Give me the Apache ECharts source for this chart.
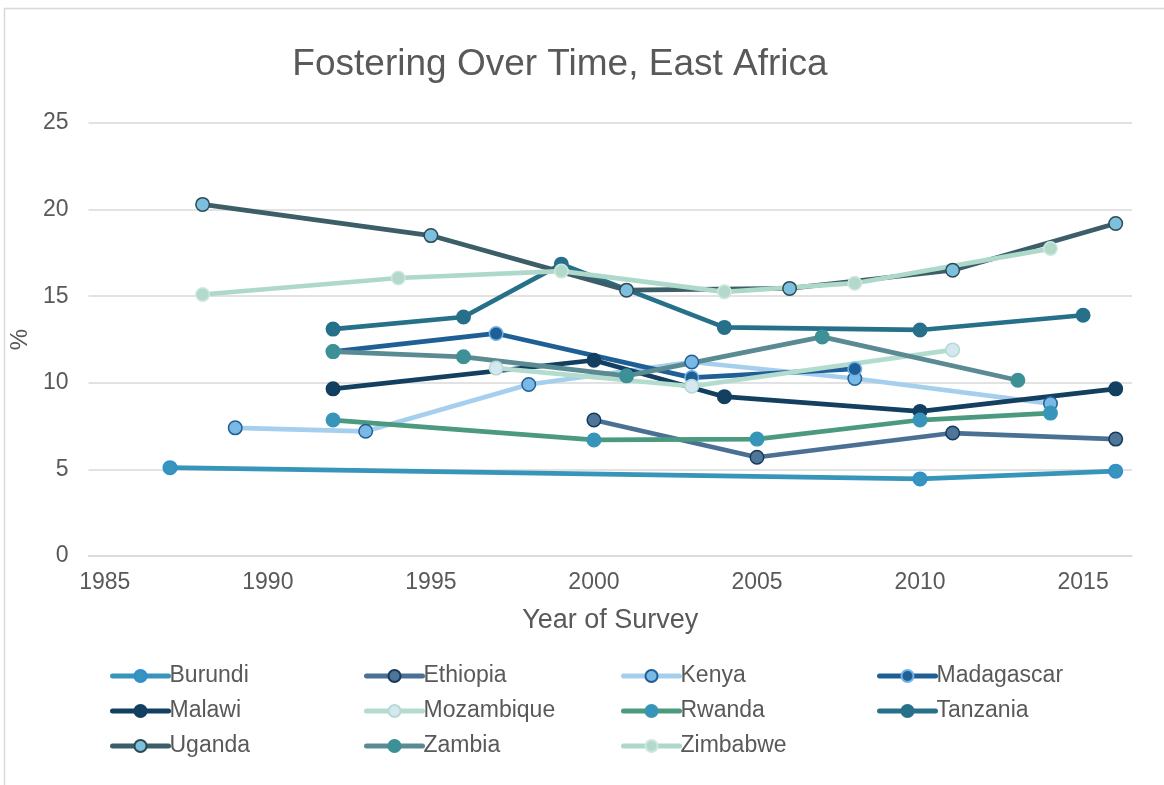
<!DOCTYPE html>
<html>
<head>
<meta charset="utf-8">
<title>Fostering Over Time, East Africa</title>
<script src="https://cdn.jsdelivr.net/npm/echarts@6/dist/echarts.min.js"></script>
<style>
  html, body { margin: 0; padding: 0; background: #ffffff; }
  #chart { width: 1164px; height: 785px; }
</style>
</head>
<body>
<div id="chart"></div>
<script>
// Survey years and percentage of children fostered, per country
const burundiYears = [1987, 2010, 2016];
const burundiVals = [5.1, 4.45, 4.9];

const ethiopiaYears = [2000, 2005, 2011, 2016];
const ethiopiaVals = [7.85, 5.7, 7.1, 6.75];

const kenyaYears = [1989, 1993, 1998, 2003, 2008, 2014];
const kenyaVals = [7.4, 7.2, 9.9, 11.2, 10.25, 8.8];

const madagascarYears = [1992, 1997, 2003, 2008];
const madagascarVals = [11.8, 12.85, 10.3, 10.8];

const malawiYears = [1992, 2000, 2004, 2010, 2016];
const malawiVals = [9.65, 11.3, 9.2, 8.35, 9.65];

const mozambiqueYears = [1997, 2003, 2011];
const mozambiqueVals = [10.85, 9.8, 11.9];

const rwandaYears = [1992, 2000, 2005, 2010, 2014];
const rwandaVals = [7.85, 6.7, 6.75, 7.85, 8.25];

const tanzaniaYears = [1992, 1996, 1999, 2004, 2010, 2015];
const tanzaniaVals = [13.1, 13.8, 16.85, 13.2, 13.05, 13.9];

const ugandaYears = [1988, 1995, 2001, 2006, 2011, 2016];
const ugandaVals = [20.3, 18.5, 15.35, 15.45, 16.5, 19.2];

const zambiaYears = [1992, 1996, 2001, 2007, 2013];
const zambiaVals = [11.8, 11.5, 10.4, 12.65, 10.15];

const zimbabweYears = [1988, 1994, 1999, 2004, 2008, 2014];
const zimbabweVals = [15.1, 16.05, 16.45, 15.25, 15.75, 17.75];

const yearTicks = [1985, 1990, 1995, 2000, 2005, 2010, 2015];

// Line colour, marker fill, marker outline
const countries = [
  { name: 'Burundi',    years: burundiYears,    vals: burundiVals,    line: '#3794bb', fill: '#3794bb', edge: '#2f8fd0' },
  { name: 'Ethiopia',   years: ethiopiaYears,   vals: ethiopiaVals,   line: '#4a7194', fill: '#4f7598', edge: '#173a5a' },
  { name: 'Kenya',      years: kenyaYears,      vals: kenyaVals,      line: '#a6cfee', fill: '#7ab8e6', edge: '#1f5f96' },
  { name: 'Madagascar', years: madagascarYears, vals: madagascarVals, line: '#1e5f95', fill: '#1e5f95', edge: '#72b3e6' },
  { name: 'Malawi',     years: malawiYears,     vals: malawiVals,     line: '#133f61', fill: '#133f61', edge: '#133f61' },
  { name: 'Mozambique', years: mozambiqueYears, vals: mozambiqueVals, line: '#b3dccf', fill: '#d4e7f3', edge: '#b3dccf' },
  { name: 'Rwanda',     years: rwandaYears,     vals: rwandaVals,     line: '#4b9a7f', fill: '#3794bb', edge: '#3a96b5' },
  { name: 'Tanzania',   years: tanzaniaYears,   vals: tanzaniaVals,   line: '#27708a', fill: '#27708a', edge: '#27708a' },
  { name: 'Uganda',     years: ugandaYears,     vals: ugandaVals,     line: '#3c5e68', fill: '#7cc0de', edge: '#2b4a55' },
  { name: 'Zambia',     years: zambiaYears,     vals: zambiaVals,     line: '#5a8a92', fill: '#3e9097', edge: '#3e9097' },
  { name: 'Zimbabwe',   years: zimbabweYears,   vals: zimbabweVals,   line: '#aed8c9', fill: '#b2d9ca', edge: '#cfe7df' }
];

const textColor = '#595959';
const fontFamily = '"Liberation Sans", Arial, sans-serif';

const series = countries.map(c => ({
  name: c.name,
  type: 'line',
  data: c.years.map((y, i) => [y, c.vals[i]]),
  symbol: 'circle',
  symbolSize: 13.5,
  showAllSymbol: true,
  lineStyle: { color: c.line, width: 4.7, cap: 'round', join: 'round' },
  itemStyle: { color: c.fill, borderColor: c.edge, borderWidth: 1.5 },
  emphasis: { disabled: true },
  animation: false
}));

// Four legend columns, three rows
const legendColumns = [
  ['Burundi', 'Malawi', 'Uganda'],
  ['Ethiopia', 'Mozambique', 'Zambia'],
  ['Kenya', 'Rwanda', 'Zimbabwe'],
  ['Madagascar', 'Tanzania']
];
const legendLeft = [110, 364, 621, 877];

const legends = legendColumns.map((names, i) => ({
  data: names,
  orient: 'vertical',
  left: legendLeft[i],
  top: 664,
  itemWidth: 56,
  itemHeight: 15,
  itemGap: 11,
  padding: 0,
  selectedMode: false,
  lineStyle: { width: 5 },
  textStyle: { color: textColor, fontSize: 23, fontFamily: fontFamily, lineHeight: 24, padding: [0, 0, 0, -4] }
}));

const chart = echarts.init(document.getElementById('chart'), null, { renderer: 'canvas' });
chart.setOption({
  backgroundColor: '#ffffff',
  animation: false,
  title: {
    text: 'Fostering Over Time, East Africa',
    left: 555,
    top: 41,
    textAlign: 'center',
    textStyle: { color: textColor, fontSize: 37, fontWeight: 'normal', fontFamily: fontFamily }
  },
  graphic: [{
    type: 'rect',
    shape: { x: 4.5, y: 8.5, width: 1180, height: 800 },
    style: { fill: null, stroke: '#d9d9d9', lineWidth: 1.5 },
    silent: true,
    z: -1
  }],
  legend: legends,
  grid: { left: 87, right: 32, top: 123, bottom: 229, containLabel: false },
  xAxis: {
    type: 'value',
    min: 1984.5,
    max: 2016.5,
    name: 'Year of Survey',
    nameLocation: 'middle',
    nameGap: 51,
    nameTextStyle: { color: textColor, fontSize: 27, fontFamily: fontFamily },
    axisLine: { show: true, lineStyle: { color: '#d9d9d9', width: 1.5 } },
    axisTick: { show: false },
    splitLine: { show: false },
    axisLabel: {
      customValues: yearTicks,
      color: textColor,
      fontSize: 23,
      fontFamily: fontFamily,
      margin: 15,
      formatter: v => String(v)
    }
  },
  yAxis: {
    type: 'value',
    min: 0,
    max: 25,
    interval: 5,
    name: '%',
    nameLocation: 'middle',
    nameRotate: 90,
    nameGap: 50,
    nameTextStyle: { color: textColor, fontSize: 24, fontFamily: fontFamily },
    axisLine: { show: false },
    axisTick: { show: false },
    splitLine: { show: true, lineStyle: { color: '#d9d9d9', width: 1.5 } },
    axisLabel: { color: textColor, fontSize: 23, fontFamily: fontFamily, margin: 20 }
  },
  series: series
});
</script>
</body>
</html>
